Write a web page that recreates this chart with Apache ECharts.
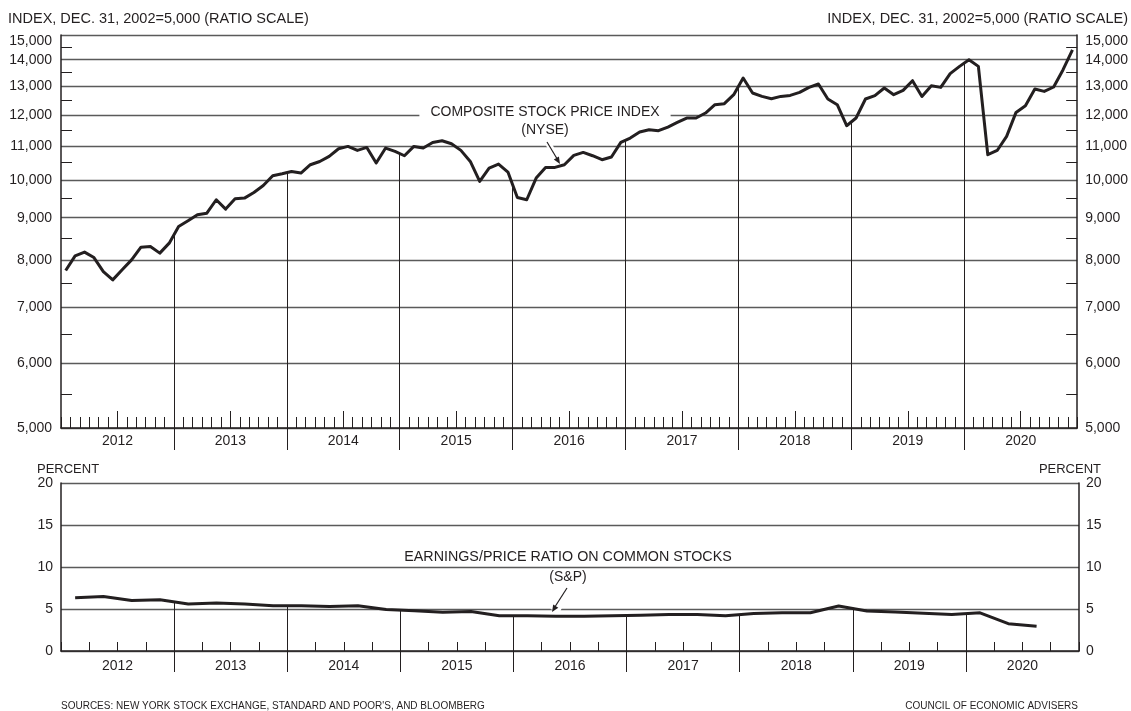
<!DOCTYPE html>
<html><head><meta charset="utf-8">
<script src="https://cdn.jsdelivr.net/npm/echarts@6/dist/echarts.min.js"></script>
<style>html,body{margin:0;padding:0;background:#fff}#c{width:1131px;height:711px}</style>
</head><body><div id="c"></div>
<script>
// ---- data ----
const years = ['2012','2013','2014','2015','2016','2017','2018','2019','2020'];
// NYSE Composite, monthly
const nyse2012 = [7765, 8091, 8175, 8052, 7743, 7565, 7780, 8000, 8290, 8304, 8152, 8383];
const nyse2013 = [8782, 8923, 9075, 9116, 9464, 9220, 9489, 9508, 9658, 9849, 10120, 10177];
const nyse2014 = [10244, 10197, 10437, 10533, 10682, 10915, 10986, 10864, 10955, 10486, 10935, 10833];
const nyse2015 = [10703, 10986, 10935, 11109, 11161, 11068, 10864, 10533, 9960, 10340, 10457, 10225];
const nyse2016 = [9525, 9464, 10055, 10359, 10359, 10437, 10712, 10803, 10703, 10584, 10664, 11109];
const nyse2017 = [11246, 11436, 11509, 11479, 11597, 11748, 11893, 11893, 12061, 12345, 12380, 12695];
const nyse2018 = [13300, 12755, 12634, 12553, 12634, 12670, 12777, 12957, 13081, 12542, 12344, 11640];
const nyse2019 = [11893, 12542, 12660, 12935, 12695, 12849, 13202, 12634, 13018, 12957, 13463, 13741];
const nyse2020 = [14000, 13741, 10733, 10862, 11297, 12081, 12310, 12899, 12812, 12971, 13614, 14390];
// S&P earnings/price ratio, quarterly (percent)
const ep2012 = [6.35, 6.5, 6.0, 6.1];
const ep2013 = [5.6, 5.7, 5.6, 5.4];
const ep2014 = [5.4, 5.3, 5.4, 4.95];
const ep2015 = [4.8, 4.6, 4.7, 4.2];
const ep2016 = [4.2, 4.15, 4.15, 4.2];
const ep2017 = [4.25, 4.35, 4.35, 4.2];
const ep2018 = [4.45, 4.55, 4.55, 5.35];
const ep2019 = [4.75, 4.65, 4.5, 4.35];
const ep2020 = [4.55, 3.25, 2.95];
// tick values
const priceTicks = [5000, 6000, 7000, 8000, 9000, 10000, 11000, 12000, 13000, 14000, 15000];
const priceHalfTicks = [5500, 6500, 7500, 8500, 9500, 10500, 11500, 12500, 13500, 14500];
const pctMin = 0, pctMax = 20, pctStep = 5;

// ---- build ----
const nyse = [].concat(nyse2012, nyse2013, nyse2014, nyse2015, nyse2016, nyse2017, nyse2018, nyse2019, nyse2020);
const ep = [].concat(ep2012, ep2013, ep2014, ep2015, ep2016, ep2017, ep2018, ep2019, ep2020);
const nMonths = years.length * 12, nQuarters = years.length * 4;
const L = Math.log10;
const ink = '#231f20', gridCol = '#5a5a5a';
const FF = 'Liberation Sans';

const monthMid = years.map((y, i) => i * 12 + 6);
const monthBounds = years.slice(1).map((y, i) => (i + 1) * 12);
const qMid = years.map((y, i) => i * 4 + 2);
const qBounds = years.slice(1).map((y, i) => (i + 1) * 4);

const topDrops = monthBounds.map(b => [{coord: [b, priceTicks[0]]}, {coord: [b, Math.sqrt(nyse[b - 1] * nyse[b])]}]);
const botDrops = qBounds.map(b => [{coord: [b, pctMin]}, {coord: [b, (ep[b - 1] + ep[b]) / 2]}]);

const priceFmt = v => {
  const n = Math.round(Math.pow(10, v) / 100) * 100;
  const s = n.toLocaleString('en-US');
  return n === priceTicks[priceTicks.length - 1] ? '{t|' + s + '}' : s;
};
const lblStyle = {color: ink, fontSize: 14, fontFamily: FF};
const richTop = {t: {padding: [13, 0, 0, 0], color: ink, fontSize: 14, fontFamily: FF}};

const noLine = {show: false, onZero: false};
const axLine = {show: true, onZero: false, lineStyle: {color: ink, width: 1.5}};

const option = {
  animation: false,
  backgroundColor: '#fff',
  grid: [
    {left: 61, right: 52, top: 35, height: 393},
    {left: 61, right: 52, top: 483, height: 168}
  ],
  xAxis: [
    {gridIndex: 0, type: 'value', position: 'bottom', min: 0, max: nMonths, interval: 1,
     axisLine: axLine, axisTick: {show: true, inside: true, length: 11, lineStyle: {color: ink, width: 1}},
     axisLabel: {show: false}, splitLine: {show: false}},
    {gridIndex: 0, type: 'value', position: 'bottom', min: 0, max: nMonths,
     axisLine: noLine, axisTick: {show: true, inside: true, length: 17, customValues: monthMid, lineStyle: {color: ink, width: 1}},
     axisLabel: {show: false}, splitLine: {show: false}},
    {gridIndex: 0, type: 'value', position: 'bottom', min: 0, max: nMonths,
     axisLine: noLine, axisTick: {show: true, inside: false, length: 22, customValues: monthBounds, lineStyle: {color: ink, width: 1}},
     axisLabel: Object.assign({show: true, customValues: monthMid, margin: 6, formatter: v => years[Math.round((v - 6) / 12)]}, lblStyle),
     splitLine: {show: false}},
    {gridIndex: 1, type: 'value', position: 'bottom', min: 0, max: nQuarters, interval: 1,
     axisLine: axLine, axisTick: {show: true, inside: true, length: 9, lineStyle: {color: ink, width: 1}},
     axisLabel: {show: false}, splitLine: {show: false}},
    {gridIndex: 1, type: 'value', position: 'bottom', min: 0, max: nQuarters,
     axisLine: noLine, axisTick: {show: true, inside: false, length: 21, customValues: qBounds, lineStyle: {color: ink, width: 1}},
     axisLabel: Object.assign({show: true, customValues: qMid, margin: 8, formatter: v => years[Math.round((v - 2) / 4)]}, lblStyle),
     splitLine: {show: false}}
  ],
  yAxis: [
    {gridIndex: 0, type: 'log', min: priceTicks[0], max: priceTicks[priceTicks.length - 1], show: false, axisLine: {onZero: false}},
    {gridIndex: 0, type: 'value', position: 'left', min: L(priceTicks[0]), max: L(priceTicks[priceTicks.length - 1]),
     axisLine: axLine, axisTick: {show: false, customValues: priceTicks.map(L)},
     axisLabel: Object.assign({customValues: priceTicks.map(L), formatter: priceFmt, margin: 9, rich: richTop}, lblStyle),
     splitLine: {show: true, lineStyle: {color: gridCol, width: 1.3}}},
    {gridIndex: 0, type: 'value', position: 'right', min: L(priceTicks[0]), max: L(priceTicks[priceTicks.length - 1]),
     axisLine: axLine, axisTick: {show: false, customValues: priceTicks.map(L)},
     axisLabel: Object.assign({customValues: priceTicks.map(L), formatter: priceFmt, margin: 8, rich: richTop}, lblStyle),
     splitLine: {show: false}},
    {gridIndex: 0, type: 'value', position: 'left', min: L(priceTicks[0]), max: L(priceTicks[priceTicks.length - 1]),
     axisLine: noLine, axisTick: {show: true, inside: true, length: 11, customValues: priceHalfTicks.map(L), lineStyle: {color: ink, width: 1}},
     axisLabel: {show: false}, splitLine: {show: false}},
    {gridIndex: 0, type: 'value', position: 'right', min: L(priceTicks[0]), max: L(priceTicks[priceTicks.length - 1]),
     axisLine: noLine, axisTick: {show: true, inside: true, length: 11, customValues: priceHalfTicks.map(L), lineStyle: {color: ink, width: 1}},
     axisLabel: {show: false}, splitLine: {show: false}},
    {gridIndex: 1, type: 'value', position: 'left', min: pctMin, max: pctMax, interval: pctStep,
     axisLine: axLine, axisTick: {show: false},
     axisLabel: Object.assign({margin: 8}, lblStyle),
     splitLine: {show: true, lineStyle: {color: gridCol, width: 1.3}}},
    {gridIndex: 1, type: 'value', position: 'right', min: pctMin, max: pctMax, interval: pctStep,
     axisLine: axLine, axisTick: {show: false},
     axisLabel: Object.assign({margin: 7}, lblStyle),
     splitLine: {show: false}}
  ],
  series: [
    {type: 'line', xAxisIndex: 0, yAxisIndex: 0, data: nyse.map((v, i) => [i + 0.5, v]),
     showSymbol: false, symbol: 'none', lineStyle: {color: ink, width: 3, join: 'round'}, z: 3,
     emphasis: {disabled: true},
     markLine: {silent: true, symbol: 'none', label: {show: false}, emphasis: {disabled: true},
                lineStyle: {color: ink, width: 1, type: 'solid'}, data: topDrops}},
    {type: 'line', xAxisIndex: 3, yAxisIndex: 5, data: ep.map((v, i) => [i + 0.5, v]),
     showSymbol: false, symbol: 'none', lineStyle: {color: ink, width: 3, join: 'round'}, z: 3,
     emphasis: {disabled: true},
     markLine: {silent: true, symbol: 'none', label: {show: false}, emphasis: {disabled: true},
                lineStyle: {color: ink, width: 1, type: 'solid'}, data: botDrops}}
  ],
  graphic: [
    {type: 'text', z: 10, style: {x: 8, y: 19, text: 'INDEX, DEC. 31, 2002=5,000 (RATIO SCALE)', fill: ink, font: '14.5px ' + FF, align: 'left', verticalAlign: 'middle'}},
    {type: 'text', z: 10, style: {x: 1128, y: 19, text: 'INDEX, DEC. 31, 2002=5,000 (RATIO SCALE)', fill: ink, font: '14.5px ' + FF, align: 'right', verticalAlign: 'middle'}},
    {type: 'text', z: 10, style: {x: 37, y: 469, text: 'PERCENT', fill: ink, font: '13px ' + FF, align: 'left', verticalAlign: 'middle'}},
    {type: 'text', z: 10, style: {x: 1101, y: 469, text: 'PERCENT', fill: ink, font: '13px ' + FF, align: 'right', verticalAlign: 'middle'}},
    {type: 'text', z: 10, style: {x: 545, y: 112, text: 'COMPOSITE STOCK PRICE INDEX', fill: ink, font: '14px ' + FF, align: 'center', verticalAlign: 'middle', backgroundColor: '#fff', padding: [2, 11, 2, 11]}},
    {type: 'text', z: 10, style: {x: 545, y: 130, text: '(NYSE)', fill: ink, font: '14px ' + FF, align: 'center', verticalAlign: 'middle'}},
    {type: 'line', z: 1, shape: {x1: 547, y1: 141, x2: 553, y2: 152}, style: {stroke: '#fff', lineWidth: 6}},
    {type: 'line', z: 10, shape: {x1: 547, y1: 142, x2: 557.5, y2: 159.5}, style: {stroke: ink, lineWidth: 1.2}},
    {type: 'polygon', z: 10, shape: {points: [[560, 164], [553.8, 159.6], [558.9, 156.4]]}, style: {fill: ink}},
    {type: 'text', z: 10, style: {x: 568, y: 557, text: 'EARNINGS/PRICE RATIO ON COMMON STOCKS', fill: ink, font: '14.3px ' + FF, align: 'center', verticalAlign: 'middle', backgroundColor: '#fff', padding: [2, 12, 2, 12]}},
    {type: 'text', z: 10, style: {x: 568, y: 577, text: '(S&P)', fill: ink, font: '14px ' + FF, align: 'center', verticalAlign: 'middle'}},
    {type: 'line', z: 1, shape: {x1: 560, y1: 600, x2: 555, y2: 611}, style: {stroke: '#fff', lineWidth: 10}},
    {type: 'line', z: 10, shape: {x1: 567, y1: 588, x2: 554.5, y2: 607.5}, style: {stroke: ink, lineWidth: 1.2}},
    {type: 'polygon', z: 10, shape: {points: [[552, 612], [553.2, 604.5], [558.3, 607.7]]}, style: {fill: ink}},
    {type: 'text', z: 10, style: {x: 61, y: 706, text: "SOURCES: NEW YORK STOCK EXCHANGE, STANDARD AND POOR'S, AND BLOOMBERG", fill: ink, font: '10px ' + FF, align: 'left', verticalAlign: 'middle'}},
    {type: 'text', z: 10, style: {x: 1078, y: 706, text: 'COUNCIL OF ECONOMIC ADVISERS', fill: ink, font: '10px ' + FF, align: 'right', verticalAlign: 'middle'}}
  ]
};
const chart = echarts.init(document.getElementById('c'), null, {renderer: 'canvas'});
chart.setOption(option);
</script>
</body></html>
